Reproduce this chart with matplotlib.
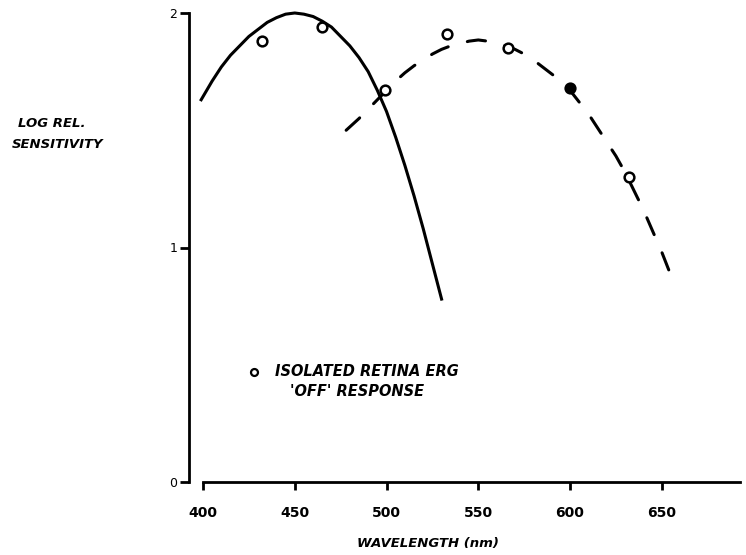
import numpy as np
import matplotlib
matplotlib.use('Agg')
import matplotlib.pyplot as plt

plt.rcParams['font.family'] = 'DejaVu Sans'
plt.rcParams['font.size'] = 9

# solid curve (short wavelength)
solid_wl = [399, 405, 410, 415, 420, 425, 430, 435, 440, 445, 450, 455, 460, 465,
            470, 475, 480, 485, 490, 495, 500, 505, 510, 515, 520, 525, 530]
solid_val = [1.63, 1.71, 1.77, 1.82, 1.86, 1.90, 1.93, 1.96, 1.98, 1.995, 2.00, 1.995, 1.985, 1.965,
             1.94, 1.90, 1.86, 1.81, 1.75, 1.67, 1.58, 1.47, 1.35, 1.22, 1.08, 0.93, 0.78]

# dashed curve (long wavelength)
dash_wl = [478, 485, 490, 495, 500, 505, 510, 515, 520, 525, 530, 535, 540, 545, 550, 555,
           560, 565, 570, 575, 580, 585, 590, 595, 600, 605, 610, 615, 620, 625, 630, 635,
           640, 645, 650, 656]
dash_val = [1.50, 1.55, 1.59, 1.63, 1.67, 1.71, 1.745, 1.775, 1.80, 1.825, 1.845, 1.86, 1.87, 1.88, 1.885, 1.88,
            1.87, 1.86, 1.845, 1.825, 1.80, 1.77, 1.74, 1.71, 1.67, 1.62, 1.57, 1.51, 1.45, 1.39, 1.32, 1.24,
            1.16, 1.07, 0.98, 0.86]

# isolated retina ERG 'off' response
erg_wl = [432, 465, 499, 533, 566, 632]
erg_val = [1.88, 1.94, 1.67, 1.91, 1.85, 1.30]
erg_filled_wl = [600]
erg_filled_val = [1.68]

xticks = [400, 450, 500, 550, 600, 650]
yticks = [0, 1, 2]

W, H = 746, 555
fig = plt.figure(figsize=(W / 100, H / 100), dpi=100)
ax = fig.add_axes([203 / W, (H - 482) / H, (740 - 203) / W, (482 - 13) / H])

ax.plot(solid_wl, solid_val, color='black', lw=2.2, solid_joinstyle='round', clip_on=False)
ax.plot(dash_wl, dash_val, color='black', lw=2.2, linestyle=(0, (6, 6.5)), dash_capstyle='round')
ax.plot(erg_wl, erg_val, 'o', ms=7, mfc='white', mec='black', mew=1.8)
ax.plot(erg_filled_wl, erg_filled_val, 'o', ms=7, mfc='black', mec='black', mew=1.8)

ax.set_xlim(400, 692.6)
ax.set_ylim(0, 2)
ax.set_xticks(xticks)
ax.set_yticks(yticks)
ax.set_xticklabels([str(t) for t in xticks], fontweight='bold', fontsize=10)
ax.set_yticklabels([str(t) for t in yticks], fontweight='bold', fontsize=10)

for s in ['top', 'right']:
    ax.spines[s].set_visible(False)
ax.spines['left'].set_position(('outward', 10))
ax.spines['left'].set_linewidth(2)
ax.spines['bottom'].set_linewidth(2)
ax.tick_params(axis='x', direction='out', length=6, width=2, pad=11)
ax.tick_params(axis='y', direction='out', length=6.5, width=2, pad=2)

lab = dict(fontweight='bold', style='italic', va='center', ha='left', fontsize=9.5)
fig.text(18 / W, 1 - 124 / H, 'LOG REL.', **lab)
fig.text(12 / W, 1 - 144 / H, 'SENSITIVITY', **lab)
fig.text(428 / W, 1 - 543 / H, 'WAVELENGTH (nm)', fontweight='bold', style='italic',
         va='center', ha='center', fontsize=9.5)

# legend entry drawn by hand
ax.plot([428], [0.47], 'o', ms=5, mfc='white', mec='black', mew=1.6, clip_on=False)
leg = dict(fontweight='bold', style='italic', va='center', ha='left', fontsize=10.5)
fig.text(275 / W, 1 - 372 / H, 'ISOLATED RETINA ERG', **leg)
fig.text(290 / W, 1 - 391 / H, "'OFF' RESPONSE", **leg)

fig.savefig('out.png', dpi=100)
